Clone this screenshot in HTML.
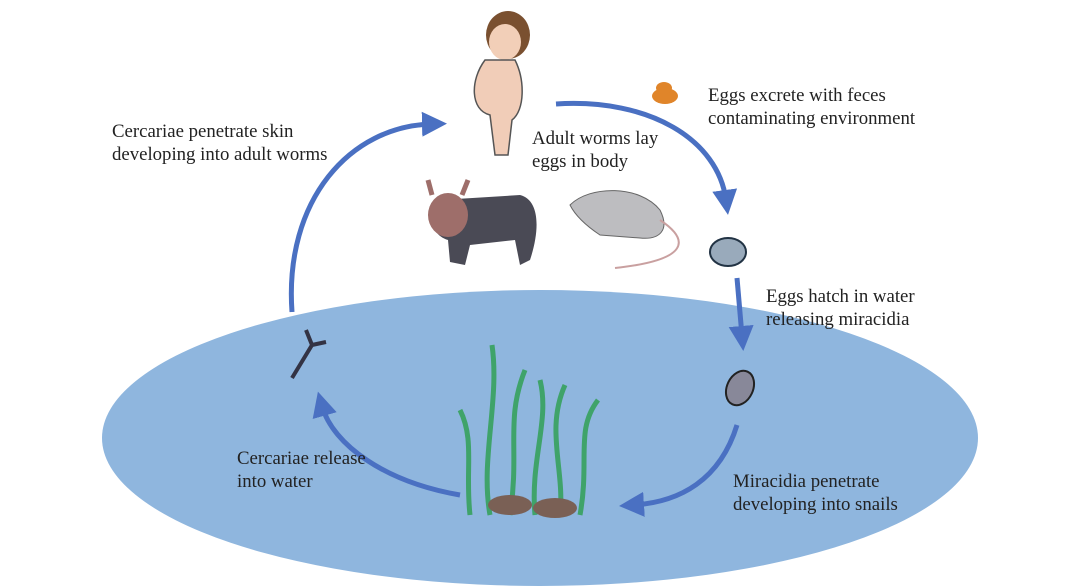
<!DOCTYPE html>
<html><head><meta charset="utf-8"><style>
html,body{margin:0;padding:0;background:#fff;}
svg{display:block;}
text{font-family:"Liberation Serif",serif;font-size:18.8px;fill:#222;}
</style></head><body>
<svg width="1080" height="586" viewBox="0 0 1080 586" xmlns="http://www.w3.org/2000/svg">
<defs>
<marker id="ah" markerWidth="5" markerHeight="5" refX="2" refY="2.5" orient="auto" markerUnits="strokeWidth">
<path d="M0,0 L5,2.5 L0,5 z" fill="#4a70c2"/></marker>
</defs>
<ellipse cx="540" cy="438" rx="438" ry="148" fill="#8fb6de"/>
<g fill="none" stroke="#4a70c2" stroke-width="5">
<path d="M292,312 C284,200 350,126 432,124" marker-end="url(#ah)"/>
<path d="M556,104 C650,98 718,140 726,200" marker-end="url(#ah)"/>
<path d="M737,278 L742,336" marker-end="url(#ah)"/>
<path d="M737,425 C720,480 680,502 634,505" marker-end="url(#ah)"/>
<path d="M460,495 C385,482 333,445 322,406" marker-end="url(#ah)"/>
</g>
<!-- human -->
<ellipse cx="508" cy="35" rx="22" ry="24" fill="#7a5030"/>
<ellipse cx="505" cy="42" rx="16" ry="18" fill="#f2cfb8"/>
<path d="M485,60 C470,80 470,110 490,115 L495,155 L508,155 L512,120 C525,110 525,80 515,60 z" fill="#f1cdb8" stroke="#555" stroke-width="1.5"/>
<!-- cow -->
<path d="M440,200 L520,195 C540,200 540,230 530,260 L520,265 L515,240 L470,245 L465,265 L450,262 L448,240 C430,235 425,210 440,200z" fill="#4a4a55"/>
<ellipse cx="448" cy="215" rx="20" ry="22" fill="#9e6e6a"/>
<path d="M432,195 L428,180 M462,195 L468,180" stroke="#9e6e6a" stroke-width="5"/>
<!-- rat -->
<path d="M570,205 C590,185 640,185 660,210 C670,230 660,240 640,238 L600,235 C585,225 575,215 570,205z" fill="#bdbdc0" stroke="#666"/>
<path d="M660,220 C690,240 690,260 615,268" fill="none" stroke="#c9a0a0" stroke-width="2"/>
<!-- poop -->
<ellipse cx="665" cy="96" rx="13" ry="8" fill="#e0852a"/>
<ellipse cx="664" cy="88" rx="8" ry="6" fill="#e0852a"/>
<!-- egg -->
<ellipse cx="728" cy="252" rx="18" ry="14" fill="#9ab" stroke="#234" stroke-width="2"/>
<!-- miracidium -->
<ellipse cx="740" cy="388" rx="13" ry="18" fill="#889" stroke="#222" stroke-width="2" transform="rotate(25 740 388)"/>
<!-- cercaria -->
<path d="M292,378 L312,345 M312,345 L306,330 M312,345 L326,342" stroke="#334" stroke-width="4" fill="none"/>
<!-- grass -->
<g fill="none" stroke="#3fa36a" stroke-width="5">
<path d="M490,515 C480,460 500,400 492,345"/>
<path d="M510,515 C520,450 505,420 525,370"/>
<path d="M535,515 C530,460 550,420 540,380"/>
<path d="M560,515 C565,470 545,430 565,385"/>
<path d="M580,515 C590,460 575,430 598,400"/>
<path d="M470,515 C465,470 475,440 460,410"/>
</g>
<ellipse cx="510" cy="505" rx="22" ry="10" fill="#7a6055"/>
<ellipse cx="555" cy="508" rx="22" ry="10" fill="#7a6055"/>
<text x="112" y="137">Cercariae penetrate skin</text>
<text x="112" y="160">developing into adult worms</text>
<text x="532" y="144">Adult worms lay</text>
<text x="532" y="167">eggs in body</text>
<text x="708" y="101">Eggs excrete with feces</text>
<text x="708" y="124">contaminating environment</text>
<text x="766" y="302">Eggs hatch in water</text>
<text x="766" y="325">releasing miracidia</text>
<text x="733" y="487">Miracidia penetrate</text>
<text x="733" y="510">developing into snails</text>
<text x="237" y="464">Cercariae release</text>
<text x="237" y="487">into water</text>
</svg>
</body></html>
